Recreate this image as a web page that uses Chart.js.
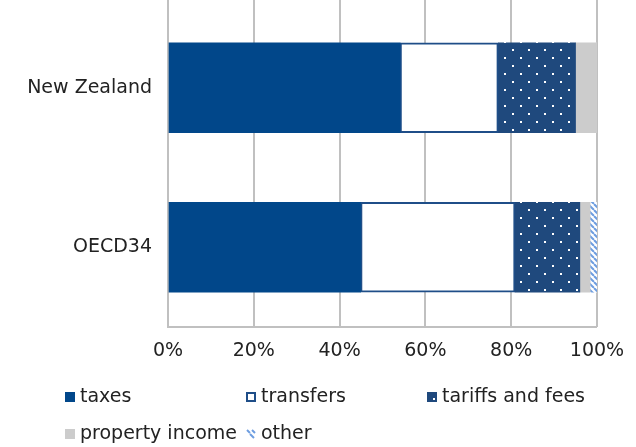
<!DOCTYPE html>
<html>
<head>
<meta charset="utf-8">
<script src="https://cdn.jsdelivr.net/npm/chart.js@4/dist/chart.umd.min.js"></script>
<style>
  html, body { margin: 0; padding: 0; background: #fff; }
  #wrap { width: 636px; height: 447px; }
</style>
</head>
<body>
<div id="wrap"><canvas id="c" width="636" height="447"></canvas></div>
<script>
// Revenue sources as share of total (%)
const categories = ['New Zealand', 'OECD34'];
const taxes      = [54.1, 44.9];
const transfers  = [22.9, 36.0];
const tariffs    = [18.0, 15.1];
const property   = [5.0, 2.4];
const other      = [0.0, 1.6];
const xTicks     = [0, 20, 40, 60, 80, 100];
const seriesNames = ['taxes', 'transfers', 'tariffs and fees', 'property income', 'other'];

const FONT = 'DejaVu Sans';
const TAX_BLUE = '#01478a';
const TARIFF_BLUE = '#1f497d';
const BORDER_BLUE = '#1f4e88';
const GREY = '#cccccc';
const STRIPE = '#6d9de0';
const GRID = '#c0c0c0';

function tile(w, h, draw) {
  const cv = document.createElement('canvas');
  cv.width = w; cv.height = h;
  draw(cv.getContext('2d'));
  return cv;
}

const ctx0 = document.getElementById('c').getContext('2d');

// dotted fill for tariffs and fees
const dotTile = tile(16, 16, g => {
  g.fillStyle = TARIFF_BLUE; g.fillRect(0, 0, 16, 16);
  g.fillStyle = '#ffffff';
  g.fillRect(0, 1, 2, 2);
  g.fillRect(8, 9, 2, 2);
});
const dotPattern = ctx0.createPattern(dotTile, 'repeat');

// diagonal stripes for "other"
const stripeTile = tile(6, 6, g => {
  g.fillStyle = '#ffffff'; g.fillRect(0, 0, 6, 6);
  g.strokeStyle = STRIPE; g.lineWidth = 2;
  for (let o = -6; o <= 6; o += 6) {
    g.beginPath(); g.moveTo(o, 0); g.lineTo(o + 6, 6); g.stroke();
  }
});
const stripePattern = ctx0.createPattern(stripeTile, 'repeat');

// Two-row legend laid out in fixed columns under the axis
const columnLegend = {
  id: 'columnLegend',
  afterDraw(chart) {
    const g = chart.ctx;
    const cols = [65, 246, 427];
    const rows = [397, 434];
    g.save();
    g.font = '19px "' + FONT + '"';
    g.textBaseline = 'middle';
    g.fillStyle = '#222';
    seriesNames.forEach((name, i) => {
      const x = cols[i % 3];
      const y = rows[Math.floor(i / 3)];
      const sx = x, sy = y - 5, s = 10;
      if (i === 0) { g.fillStyle = TAX_BLUE; g.fillRect(sx, sy, s, s); }
      else if (i === 1) {
        g.fillStyle = '#fff'; g.fillRect(sx, sy, s, s);
        g.strokeStyle = BORDER_BLUE; g.lineWidth = 2;
        g.strokeRect(sx + 1, sy + 1, s - 2, s - 2);
      } else if (i === 2) {
        g.fillStyle = TARIFF_BLUE; g.fillRect(sx, sy, s, s);
        g.fillStyle = '#fff'; g.fillRect(sx + 6, sy + 6, 2, 2);
      } else if (i === 3) { g.fillStyle = GREY; g.fillRect(sx, sy, s, s); }
      else {
        g.strokeStyle = STRIPE; g.lineWidth = 2;
        g.beginPath(); g.moveTo(sx + 1, sy + 1); g.lineTo(sx + 4, sy + 4); g.stroke();
        g.beginPath(); g.moveTo(sx + 4, sy + 5); g.lineTo(sx + 8, sy + 9); g.stroke();
        g.beginPath(); g.moveTo(sx + 6, sy + 1); g.lineTo(sx + 9, sy + 4); g.stroke();
      }
      g.fillStyle = '#222';
      g.fillText(name, x + 15, y);
    });
    g.restore();
  }
};

// Bottom rule, plus gridlines continued to the top edge of the canvas
const frame = {
  id: 'frame',
  beforeDatasetsDraw(chart) {
    const { ctx, chartArea: a, scales } = chart;
    ctx.save();
    ctx.strokeStyle = GRID; ctx.lineWidth = 2;
    ctx.beginPath(); ctx.moveTo(a.left, a.bottom); ctx.lineTo(a.right, a.bottom); ctx.stroke();
    xTicks.forEach(v => {
      const x = Math.round(scales.x.getPixelForValue(v));
      ctx.beginPath(); ctx.moveTo(x, 0); ctx.lineTo(x, a.top); ctx.stroke();
    });
    ctx.restore();
  }
};

const mk = (label, data, bg, extra) => Object.assign({
  label, data, backgroundColor: bg, borderWidth: 0,
  barThickness: 90
}, extra || {});

new Chart(document.getElementById('c'), {
  type: 'bar',
  data: {
    labels: categories,
    datasets: [
      mk(seriesNames[0], taxes, TAX_BLUE),
      mk(seriesNames[1], transfers, '#ffffff', { borderColor: BORDER_BLUE, borderWidth: 2, borderSkipped: false }),
      mk(seriesNames[2], tariffs, dotPattern),
      mk(seriesNames[3], property, GREY),
      mk(seriesNames[4], other, stripePattern)
    ]
  },
  options: {
    indexAxis: 'y',
    responsive: false,
    animation: false,
    devicePixelRatio: 1,
    layout: { padding: { left: 0, right: 39, top: 8, bottom: 80 } },
    plugins: { legend: { display: false }, tooltip: { enabled: false } },
    scales: {
      x: {
        stacked: true, min: 0, max: 100,
        afterBuildTicks(scale) { scale.ticks = xTicks.map(v => ({ value: v })); },
        afterFit(scale) { scale.height = 40; scale.paddingLeft = 0; scale.paddingRight = 0; },
        grid: { color: GRID, lineWidth: 2, drawTicks: false },
        border: { display: false },
        ticks: {
          padding: 13, color: '#222',
          font: { family: FONT, size: 19 },
          callback: v => v + '%'
        }
      },
      y: {
        stacked: true,
        afterFit(scale) {
          scale.width = 168;
          scale.paddingTop = 0; scale.paddingBottom = 0;
        },
        grid: { display: false, drawTicks: false },
        border: { display: true, color: GRID, width: 2 },
        ticks: { padding: 16, color: '#222', font: { family: FONT, size: 19 } }
      }
    }
  },
  plugins: [columnLegend, frame]
});
</script>
</body>
</html>
